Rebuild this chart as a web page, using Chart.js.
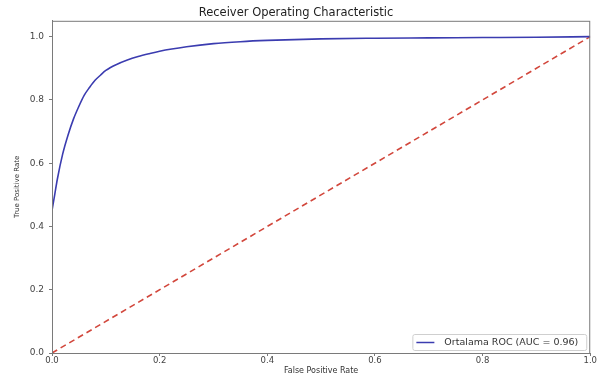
<!DOCTYPE html>
<html>
<head>
<meta charset="utf-8">
<script src="https://cdn.jsdelivr.net/npm/chart.js@4"></script>
<style>
  body { margin: 0; background: #fff; }
  canvas { display: block; }
</style>
</head>
<body>
<canvas id="rocChart" width="597" height="376"></canvas>
<script>
// mean ROC curve
const fpr = [0, 0.005, 0.01, 0.02, 0.03, 0.04, 0.05, 0.06, 0.07, 0.08, 0.09, 0.1, 0.12, 0.14, 0.16, 0.18, 0.2, 0.25, 0.3, 0.35, 0.4, 0.5, 0.6, 0.7, 0.8, 0.9, 1.0];
const tpr = [0.45, 0.5, 0.55, 0.63, 0.69, 0.74, 0.78, 0.815, 0.84, 0.862, 0.878, 0.893, 0.912, 0.926, 0.937, 0.946, 0.954, 0.968, 0.978, 0.984, 0.988, 0.993, 0.995, 0.996, 0.997, 0.998, 1.0];
const chanceX = [0, 1];
const chanceY = [0, 1];
const xTicks = [0, 0.2, 0.4, 0.6, 0.8, 1.0];
const yTicks = [0, 0.2, 0.4, 0.6, 0.8, 1.0];
const rocLabel = 'Ortalama ROC (AUC = 0.96)';

const FONT = 'DejaVu Sans';
const axisColor = '#7a7a7a';

// box around the plot area
const framePlugin = {
  id: 'frame',
  afterDatasetsDraw(chart) {
    const { ctx, chartArea: a } = chart;
    ctx.save();
    ctx.strokeStyle = axisColor;
    ctx.lineWidth = 1;
    ctx.strokeRect(a.left + 0.5, a.top + 0.5, a.right - a.left - 1, a.bottom - a.top);
    ctx.restore();
  }
};

// matplotlib style legend in the lower right corner
const cornerLegend = {
  id: 'cornerLegend',
  afterDraw(chart) {
    const { ctx, chartArea: a } = chart;
    const ds = chart.data.datasets[0];
    ctx.save();
    ctx.font = '9.5px "' + FONT + '"';
    const tw = ctx.measureText(ds.label).width;
    const h = 16;
    const w = tw + 40;
    const x = a.right - 4 - w;
    const y = a.bottom - 3 - h;
    ctx.fillStyle = 'rgba(255,255,255,0.85)';
    ctx.strokeStyle = '#cfcfcf';
    ctx.lineWidth = 1;
    ctx.beginPath();
    ctx.roundRect(x + 0.5, y + 0.5, w, h, 2);
    ctx.fill();
    ctx.stroke();
    ctx.strokeStyle = ds.borderColor;
    ctx.lineWidth = 1.5;
    ctx.beginPath();
    ctx.moveTo(x + 4, y + h / 2 + 0.5);
    ctx.lineTo(x + 22, y + h / 2 + 0.5);
    ctx.stroke();
    ctx.fillStyle = '#333';
    ctx.textBaseline = 'middle';
    ctx.fillText(ds.label, x + 32, y + h / 2 + 1);
    ctx.restore();
  }
};

new Chart(document.getElementById('rocChart'), {
  type: 'line',
  data: {
    datasets: [
      {
        label: rocLabel,
        data: fpr.map((v, i) => ({ x: v, y: tpr[i] })),
        borderColor: '#3b3cb0',
        borderWidth: 1.6,
        pointRadius: 0,
        cubicInterpolationMode: 'monotone',
        fill: false
      },
      {
        label: 'chance',
        data: chanceX.map((v, i) => ({ x: v, y: chanceY[i] })),
        borderColor: '#d2473c',
        borderWidth: 1.6,
        borderDash: [6, 4],
        pointRadius: 0,
        fill: false
      }
    ]
  },
  options: {
    responsive: false,
    animation: false,
    layout: { padding: { left: 0, right: 5, top: 0, bottom: 0 } },
    plugins: {
      legend: { display: false },
      tooltip: { enabled: false },
      title: {
        display: true,
        text: 'Receiver Operating Characteristic',
        color: '#222',
        font: { family: FONT, size: 11.5, weight: 'normal' },
        padding: { top: 6, bottom: 1 }
      }
    },
    scales: {
      x: {
        type: 'linear',
        min: 0,
        max: 1,
        afterFit: s => { s.height = 23; },
        afterBuildTicks: s => { s.ticks = xTicks.map(v => ({ value: v })); },
        ticks: {
          color: '#444',
          font: { family: FONT, size: 8.5 },
          padding: 0,
          maxRotation: 0,
          callback: v => v.toFixed(1)
        },
        grid: { drawOnChartArea: false, tickLength: 3, tickColor: axisColor },
        border: { color: axisColor },
        title: {
          display: true,
          text: 'False Positive Rate',
          color: '#333',
          font: { family: FONT, size: 8 },
          padding: { top: 0, bottom: 0 }
        }
      },
      y: {
        type: 'linear',
        min: 0,
        max: 1.05,
        afterFit: s => { s.width = 52; },
        afterBuildTicks: s => { s.ticks = yTicks.map(v => ({ value: v })); },
        ticks: {
          color: '#444',
          font: { family: FONT, size: 9 },
          padding: 5,
          callback: v => v.toFixed(1)
        },
        grid: { drawOnChartArea: false, tickLength: 3, tickColor: axisColor },
        border: { color: axisColor },
        title: {
          display: true,
          text: 'True Positive Rate',
          color: '#333',
          font: { family: FONT, size: 7 },
          padding: { top: 13, bottom: 0 }
        }
      }
    }
  },
  plugins: [framePlugin, cornerLegend]
});
</script>
</body>
</html>
